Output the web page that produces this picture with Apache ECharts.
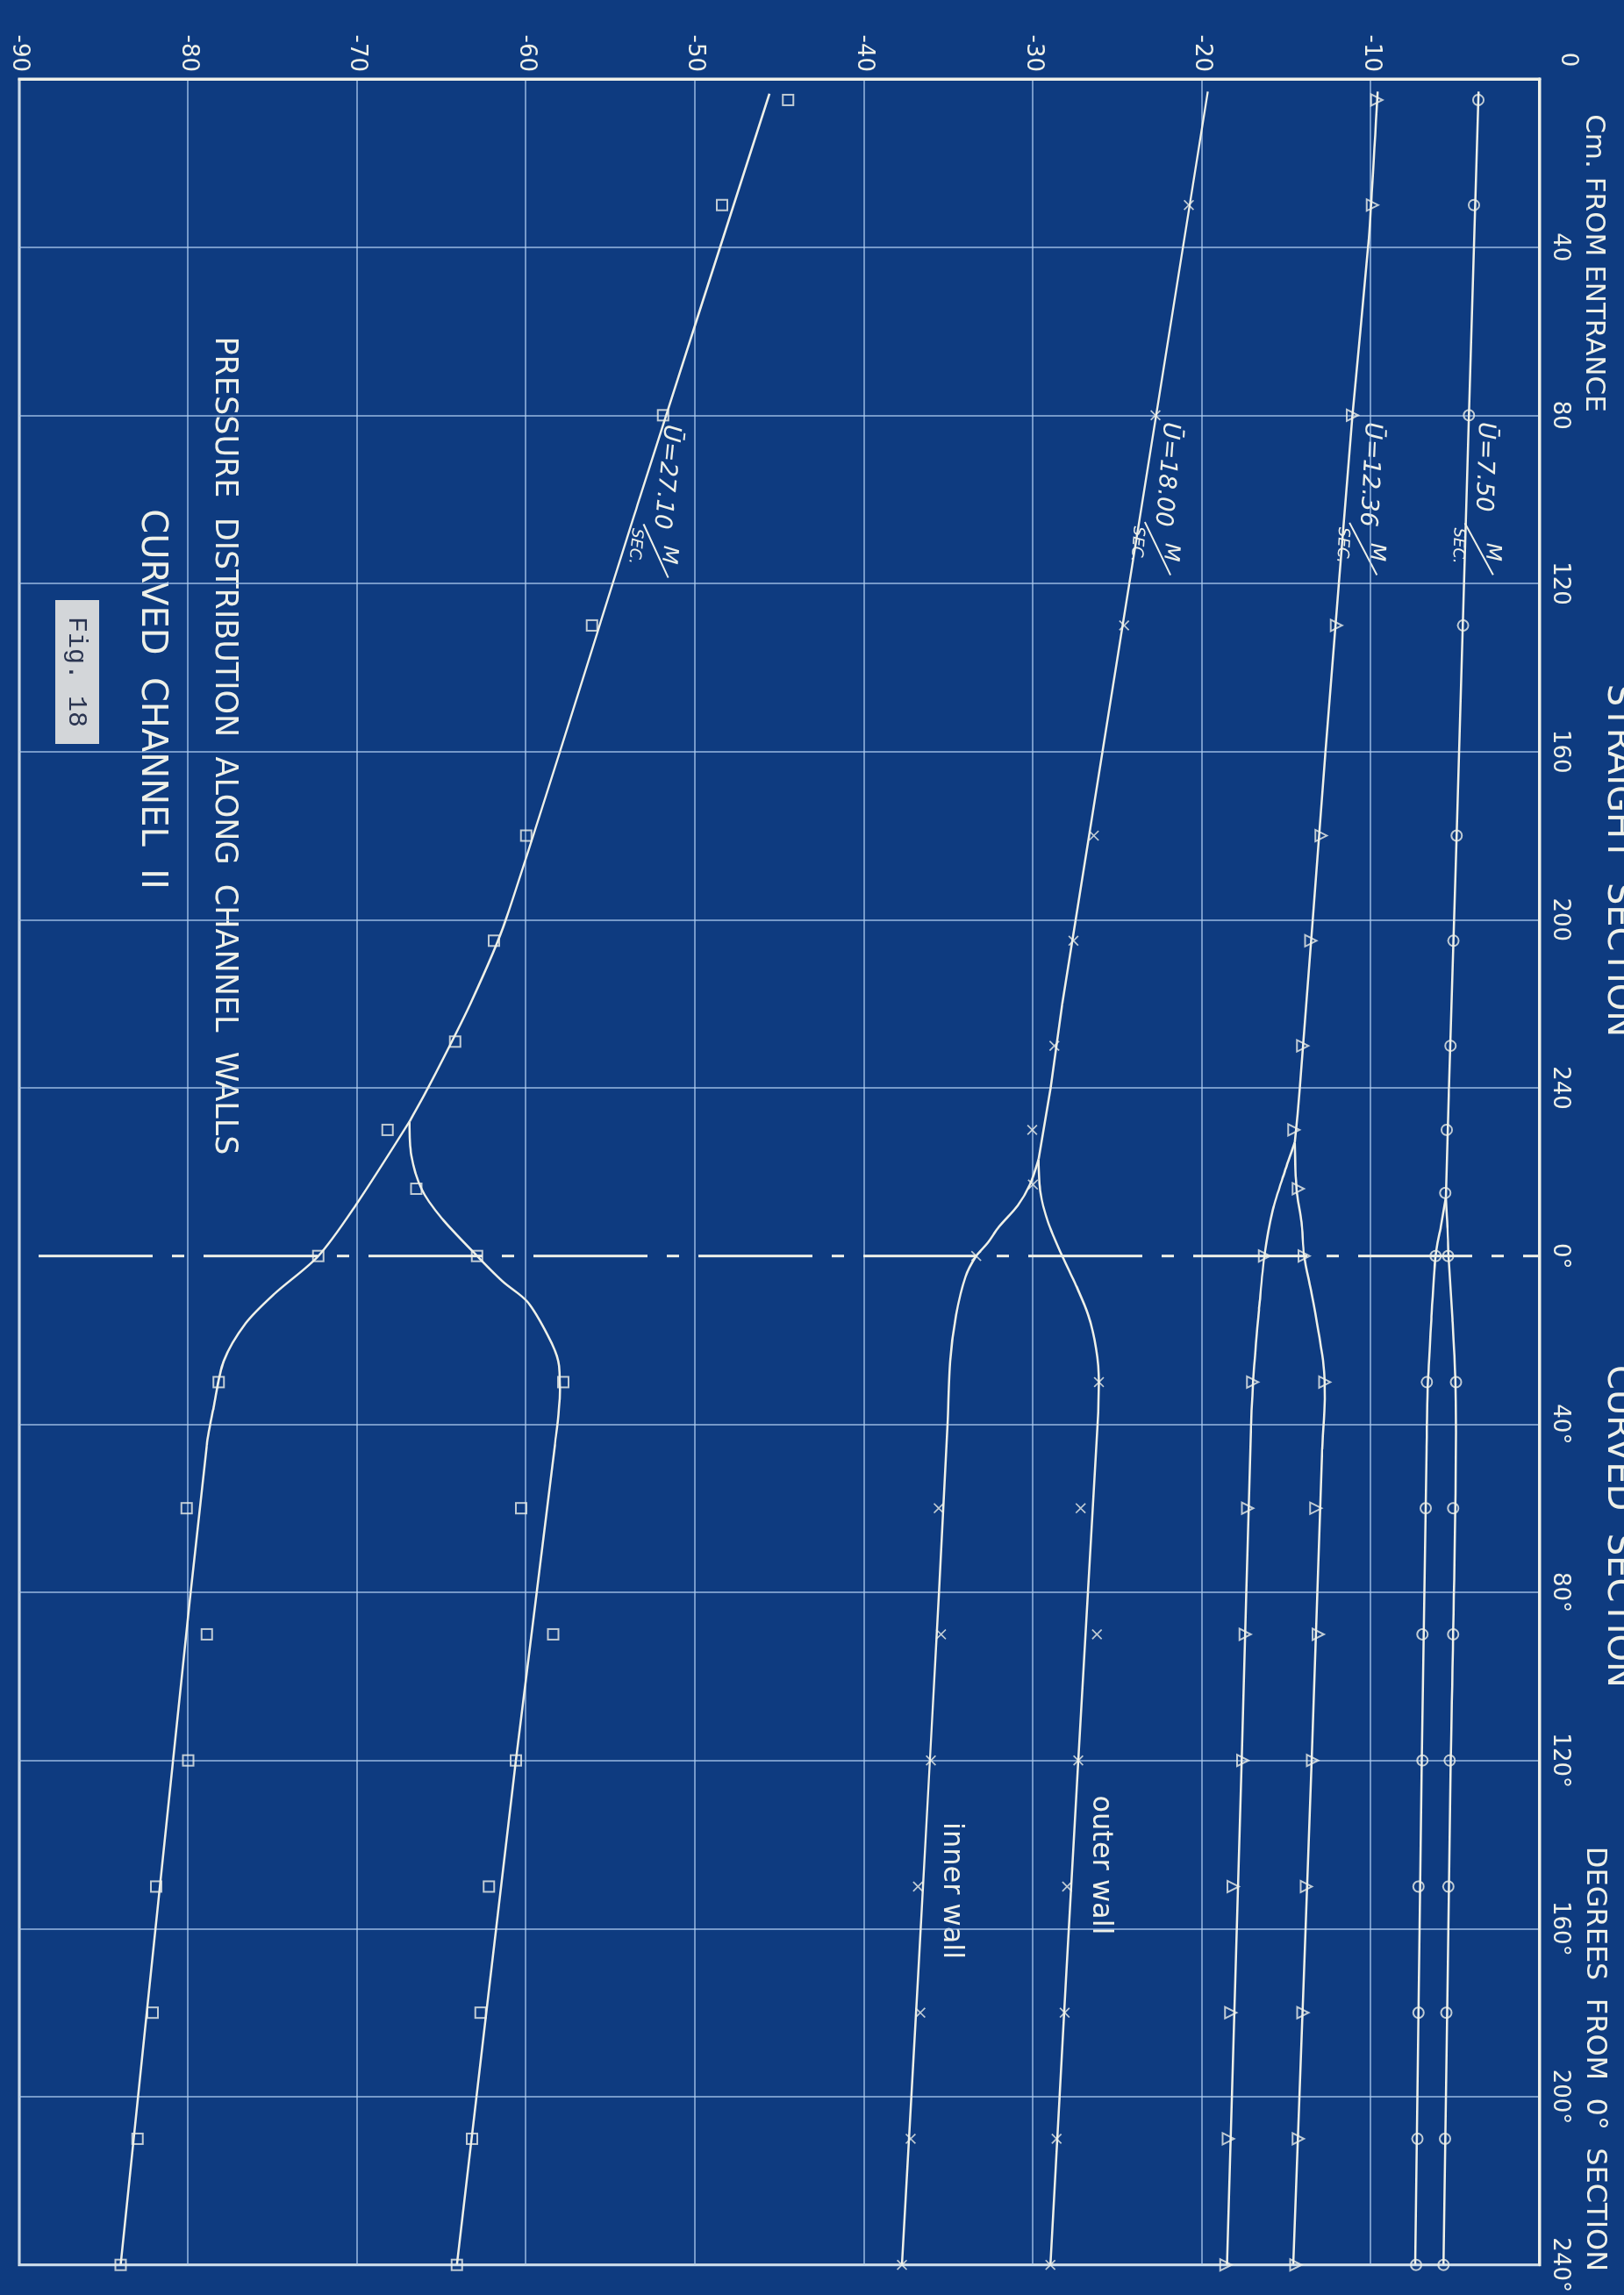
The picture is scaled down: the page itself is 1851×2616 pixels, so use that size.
<!DOCTYPE html>
<html lang="en">
<head>
<meta charset="UTF-8">
<title>Fig. 18 - Pressure distribution along channel walls</title>
<style>
    html, body { margin: 0; padding: 0; background: #0e3b80; }
    body { width: 1851px; height: 2616px; overflow: hidden; position: relative; }
    /* the sheet is drawn landscape and turned a quarter turn, as on the blueprint */
    #main { position: absolute; left: 0; top: 0; width: 2616px; height: 1851px;
            transform-origin: 0 0; transform: translate(1851px, 0) rotate(90deg); }
</style>
</head>
<body>
<div id="main"></div>
<script src="https://cdn.jsdelivr.net/npm/echarts@6/dist/echarts.min.js"></script>
<script type="text/javascript">
    // x = place along the channel: 0-240 cm straight part, then 0-240 deg of the bend (0 deg sits at 280)
    // y = pressure
    var posLabels = ['0', '40', '80', '120', '160', '200', '240', '0°', '40°', '80°', '120°', '160°', '200°', '240°'];
    var pressLabels = ['-90', '-80', '-70', '-60', '-50', '-40', '-30', '-20', '-10', '0'];
    var zeroDeg = 280;
    var speedNames = ['Ū=7.50', 'Ū=12.36', 'Ū=18.00', 'Ū=27.10'];

    // U = 7.50 m/sec (circles)
    var u750Straight = [[3, -3.62], [80, -4.2], [180, -4.92], [240, -5.37], [266, -5.56]];
    var u750Inner = [[266, -5.56], [273, -5.86], [280, -6.17], [295, -6.42], [310, -6.62], [326, -6.7], [400, -6.98], [520, -7.38]];
    var u750Outer = [[266, -5.56], [273, -5.46], [280, -5.4], [295, -5.17], [309, -5.0], [322, -4.96], [400, -5.27], [520, -5.7]];
    var u750Read = [[5, -3.64], [30, -3.9], [80, -4.19], [130, -4.54], [180, -4.92], [205, -5.11], [230, -5.29], [250, -5.51], [265, -5.6],
        [280, -6.17], [310, -6.68], [340, -6.75], [370, -6.95], [400, -6.95], [430, -7.18], [460, -7.18], [490, -7.24], [520, -7.32],
        [280, -5.43], [310, -4.96], [340, -5.13], [370, -5.13], [400, -5.33], [430, -5.41], [460, -5.53], [490, -5.61], [520, -5.7]];

    // U = 12.36 m/sec (triangles)
    var u1236Straight = [[3, -9.6], [40, -10.16], [80, -11.09], [160, -12.68], [240, -14.2], [253, -14.5]];
    var u1236Inner = [[253, -14.5], [260, -15.1], [269, -15.8], [280, -16.3], [292, -16.6], [306, -16.9], [320, -17.08], [400, -17.64], [520, -18.52]];
    var u1236Outer = [[253, -14.5], [264, -14.4], [272, -14.1], [280, -13.95], [289, -13.5], [298, -13.1], [306, -12.8], [314, -12.73], [326, -12.88], [400, -13.5], [520, -14.59]];
    var u1236Read = [[5, -9.65], [30, -9.9], [80, -11.09], [130, -12.04], [180, -12.94], [205, -13.55], [230, -14.03], [250, -14.56], [264, -14.3],
        [280, -16.3], [310, -17.0], [340, -17.29], [370, -17.44], [400, -17.58], [430, -18.15], [460, -18.29], [490, -18.43], [520, -18.58],
        [280, -13.95], [310, -12.73], [340, -13.25], [370, -13.11], [400, -13.45], [430, -13.82], [460, -14.02], [490, -14.3], [520, -14.44]];

    // U = 18.00 m/sec (crosses)
    var u1800Straight = [[3, -19.65], [220, -28.27], [240, -28.95], [257, -29.67]];
    var u1800Inner = [[257, -29.67], [263, -30.18], [268, -30.9], [273, -32.0], [277, -32.7], [280, -33.36], [285, -34.0], [294, -34.55], [305, -34.9], [320, -35.05], [400, -36.1], [520, -37.75]];
    var u1800Outer = [[257, -29.67], [265, -29.55], [272, -29.1], [280, -28.27], [287, -27.45], [294, -26.73], [302, -26.27], [310, -26.1], [320, -26.18], [400, -27.32], [520, -28.97]];
    var u1800Read = [[30, -20.77], [80, -22.75], [130, -24.6], [180, -26.4], [205, -27.6], [230, -28.73], [250, -30.04], [263, -30.0],
        [280, -33.36], [340, -35.58], [370, -35.44], [400, -36.04], [430, -36.81], [460, -36.67], [490, -37.24], [520, -37.75],
        [310, -26.09], [340, -27.18], [370, -26.21], [400, -27.32], [430, -27.98], [460, -28.12], [490, -28.6], [520, -28.97]];

    // U = 27.10 m/sec (squares)
    var u2710Straight = [[3.5, -45.6], [100, -53.3], [200, -61.2], [220, -63.3], [240, -65.8], [248, -66.9]];
    var u2710Inner = [[248, -66.9], [268, -70.1], [280, -72.3], [289, -74.9], [296, -76.6], [305, -77.9], [316, -78.5], [325, -78.9], [400, -80.9], [520, -84.0]];
    var u2710Outer = [[248, -66.9], [256, -66.8], [264, -66.2], [271, -65.0], [280, -62.9], [286, -61.4], [291, -59.9], [299, -58.7], [305, -58.1], [312, -58.0], [325, -58.3], [400, -60.6], [520, -64.1]];
    var u2710Read = [[5, -44.5], [30, -48.4], [80, -51.9], [130, -56.1], [180, -60.0], [205, -61.9], [229, -64.2], [250, -68.2], [264, -66.5],
        [280, -72.3], [310, -78.2], [340, -80.1], [370, -78.9], [400, -80.0], [430, -81.9], [460, -82.1], [490, -83.0], [520, -84.0],
        [280, -62.9], [310, -57.8], [340, -60.3], [370, -58.4], [400, -60.6], [430, -62.2], [460, -62.7], [490, -63.2], [520, -64.1]];

    var INK = '#eef0e8';
    var GRIDLINE = 'rgba(178, 208, 242, 0.85)';
    var FONT = '"DejaVu Sans"';

    var myChart = echarts.init(document.getElementById('main'), null, {width: 2616, height: 1851});

    function wall(data, smooth) {
        return {
            type: 'line', data: data, symbol: 'none', smooth: smooth,
            lineStyle: {color: INK, width: 2.5}, z: 3, silent: true
        };
    }

    function readings(data, symbol, size, solid) {
        return {
            type: 'scatter', data: data, symbol: symbol, symbolSize: size, silent: true, z: 4,
            itemStyle: solid ? {color: INK} : {color: 'rgba(0,0,0,0)', borderColor: INK, borderWidth: 2}
        };
    }

    var crossPath = 'path://M1,0 L5,4 L9,0 L10,1 L6,5 L10,9 L9,10 L5,6 L1,10 L0,9 L4,5 L0,1 Z';

    // splitline colours cycle per tick: leave a gap where the dashed 0 deg line goes
    var xSplitColors = posLabels.map(function (l, i) {
        return i === 7 ? 'rgba(0,0,0,0)' : GRIDLINE;
    });

    function speedLabel(txt, x, y, rot) {
        return {
            type: 'group', x: x, y: y, rotation: rot, silent: true,
            children: [
                {type: 'text', style: {text: txt, x: 0, y: 0, fill: INK, font: 'italic 27px ' + FONT, verticalAlign: 'middle'}},
                {type: 'text', style: {text: 'M', x: 148, y: -12, fill: INK, font: 'italic 24px ' + FONT, align: 'center', verticalAlign: 'middle'}},
                {type: 'text', style: {text: 'SEC.', x: 142, y: 27, fill: INK, font: 'italic 18px ' + FONT, align: 'center', verticalAlign: 'middle'}},
                {type: 'line', shape: {x1: 116, y1: 20, x2: 174, y2: -14}, style: {stroke: INK, lineWidth: 2}}
            ]
        };
    }

    function txt(s, x, y, size, extra) {
        var st = {text: s, fill: INK, font: size + 'px ' + FONT, align: 'center', verticalAlign: 'middle'};
        if (extra) { for (var k in extra) st[k] = extra[k]; }
        return {type: 'text', x: x, y: y, silent: true, style: st};
    }

    var option = {
        backgroundColor: '#0e3b80',
        animation: false,
        grid: {left: 90, right: 29, top: 96, bottom: 22, show: true, borderColor: INK, borderWidth: 3},
        xAxis: {
            type: 'value', position: 'top', min: 0, max: 520, interval: 40,
            axisLine: {show: true, lineStyle: {color: INK, width: 3}},
            axisTick: {show: false},
            axisLabel: {
                color: INK, fontSize: 26, fontFamily: 'DejaVu Sans', margin: 10,
                formatter: function (v) { return v === 0 ? '' : posLabels[Math.round(v / 40)]; }
            },
            splitLine: {show: true, lineStyle: {color: xSplitColors, width: 1.5}}
        },
        yAxis: {
            type: 'value', min: -90, max: 0, interval: 10,
            axisLine: {show: true, lineStyle: {color: INK, width: 3}},
            axisTick: {show: false},
            axisLabel: {
                color: INK, fontSize: 26, fontFamily: 'DejaVu Sans', margin: 8,
                formatter: function (v) { return v === 0 ? '' : pressLabels[Math.round((v + 90) / 10)]; }
            },
            splitLine: {show: true, lineStyle: {color: GRIDLINE, width: 1.5}}
        },
        graphic: [
            txt(posLabels[0], 68, 64, 26),
            txt('Cm. FROM ENTRANCE', 300, 35, 31),
            txt('STRAIGHT  SECTION', 981, 8, 40),
            txt('CURVED  SECTION', 1740, 8, 40),
            txt('DEGREES  FROM  0°  SECTION', 2347, 34, 32),
            txt('PRESSURE  DISTRIBUTION  ALONG  CHANNEL  WALLS', 850, 1596, 35),
            txt('CURVED  CHANNEL  II', 797, 1679, 40),
            {type: 'rect', silent: true, shape: {x: 684, y: 1738, width: 164, height: 50}, style: {fill: '#d3d6d9'}},
            txt('Fig. 18', 766, 1764, 30, {fill: '#2a3450', font: '30px "Liberation Mono"'}),
            speedLabel(speedNames[0], 481, 158, -0.03),
            speedLabel(speedNames[1], 481, 287, -0.05),
            speedLabel(speedNames[2], 481, 517, -0.08),
            speedLabel(speedNames[3], 484, 1086, -0.1),
            txt('outer wall', 2126, 597, 32),
            txt('inner wall', 2155, 767, 32)
        ],
        series: [
            {
                type: 'line', data: [[zeroDeg, -90], [zeroDeg, 0]], symbol: 'none', silent: true, z: 2,
                lineStyle: {color: INK, width: 3, type: [130, 22, 14, 22], dashOffset: 166}
            },
            wall(u750Straight, false), wall(u750Inner, 0.3), wall(u750Outer, 0.3),
            wall(u1236Straight, 0.2), wall(u1236Inner, 0.3), wall(u1236Outer, 0.3),
            wall(u1800Straight, false), wall(u1800Inner, 0.3), wall(u1800Outer, 0.3),
            wall(u2710Straight, 0.25), wall(u2710Inner, 0.3), wall(u2710Outer, 0.3),
            readings(u750Read, 'circle', 12, false),
            readings(u1236Read, 'triangle', 13, false),
            readings(u1800Read, crossPath, 12, true),
            readings(u2710Read, 'rect', 12, false)
        ]
    };

    myChart.setOption(option);
</script>
</body>
</html>
